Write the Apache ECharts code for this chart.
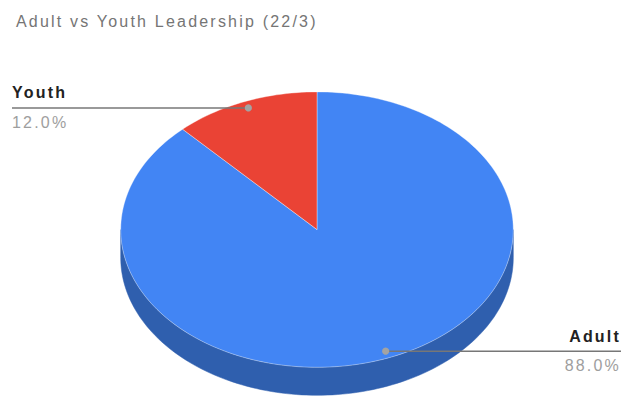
<!DOCTYPE html>
<html>
<head>
<meta charset="utf-8">
<script src="https://cdn.jsdelivr.net/npm/echarts@6/dist/echarts.min.js"></script>
<style>
  html, body { margin: 0; padding: 0; background: #fff; }
  #chart { width: 624px; height: 398px; }
  #chart text { letter-spacing: 2.2px; }
</style>
</head>
<body>
<div id="chart"></div>
<script>
// Leadership head-count split
const categories = ['Adult', 'Youth'];
const counts = [22, 3];
const titleText = 'Adult vs Youth Leadership (22/3)';

const topColors = ['#4285f4', '#ea4335'];
const sideColors = ['#2f5fae', '#a52714'];

const total = counts.reduce((a, b) => a + b, 0);

// Tilted pie geometry (ellipse centre, radii, wall depth)
const CX = 317, CY = 229.6, RX = 196.3, RY = 137.7, DEPTH = 28;
const FONT = "'Liberation Sans', Arial, sans-serif";

const rad = d => d * Math.PI / 180;
function pt(theta, k, dy) {
  k = k == null ? 1 : k; dy = dy || 0;
  return [CX + RX * k * Math.cos(rad(theta)), CY - RY * k * Math.sin(rad(theta)) + dy];
}
function arc(a0, a1, dy) {
  const n = Math.max(2, Math.ceil(Math.abs(a1 - a0) / 1.5));
  const out = [];
  for (let i = 0; i <= n; i++) out.push(pt(a0 + (a1 - a0) * i / n, 1, dy));
  return out;
}
// slices run clockwise from 12 o'clock
function sliceAngles(i) {
  let before = 0;
  for (let j = 0; j < i; j++) before += counts[j];
  return [90 - 360 * before / total, 90 - 360 * (before + counts[i]) / total];
}

function renderItem(params, api) {
  const i = params.dataIndex;
  const [a0, a1] = sliceAngles(i);
  const children = [];

  // front wall: only the part of the rim on the lower half is visible
  [[-180, 0], [180, 360], [-540, -360]].forEach(([lo, hi]) => {
    const s = Math.max(lo, a1), e = Math.min(hi, a0);
    if (e > s) {
      const pts = arc(e, s, 0).concat(arc(s, e, DEPTH));
      children.push({ type: 'polygon', z2: 1, shape: { points: pts },
        style: { fill: sideColors[i], stroke: sideColors[i], lineWidth: 0.5 } });
    }
  });

  // top face
  children.push({ type: 'polygon', z2: 2,
    shape: { points: [[CX, CY]].concat(arc(a0, a1, 0)) },
    style: { fill: topColors[i], stroke: 'rgba(255,255,255,0.45)', lineWidth: 0.8 } });

  // leader line + labels
  const mid = (a0 + a1) / 2;
  const dot = pt(mid, 0.95, 0);
  const left = Math.cos(rad(mid)) < 0;
  const edgeX = left ? 12 : 621;
  const pct = (api.value(0) / total * 100).toFixed(1) + '%';

  children.push({ type: 'line', z2: 5,
    shape: { x1: dot[0], y1: dot[1], x2: edgeX, y2: dot[1] },
    style: { stroke: '#777777', lineWidth: 1.5 } });
  children.push({ type: 'circle', z2: 6,
    shape: { cx: dot[0], cy: dot[1], r: 3.6 },
    style: { fill: '#a3a3a3' } });
  children.push({ type: 'text', z2: 7,
    style: { text: categories[i], x: edgeX, y: dot[1] - 15,
      fill: '#222222', fontSize: 16, fontWeight: 'bold', fontFamily: FONT,
      align: left ? 'left' : 'right', verticalAlign: 'middle' } });
  children.push({ type: 'text', z2: 7,
    style: { text: pct, x: edgeX, y: dot[1] + 14.5,
      fill: '#9e9e9e', fontSize: 16, fontFamily: FONT,
      align: left ? 'left' : 'right', verticalAlign: 'middle' } });

  return { type: 'group', children };
}

const chart = echarts.init(document.getElementById('chart'), null, { renderer: 'svg' });
chart.setOption({
  animation: false,
  backgroundColor: '#ffffff',
  title: {
    text: titleText, left: 11, top: 8,
    textStyle: { color: '#757575', fontSize: 16, fontWeight: 'normal', fontFamily: FONT }
  },
  series: [{
    type: 'custom',
    coordinateSystem: 'none',
    renderItem: renderItem,
    data: counts.map((v, i) => ({ name: categories[i], value: v }))
  }]
});
</script>
</body>
</html>
